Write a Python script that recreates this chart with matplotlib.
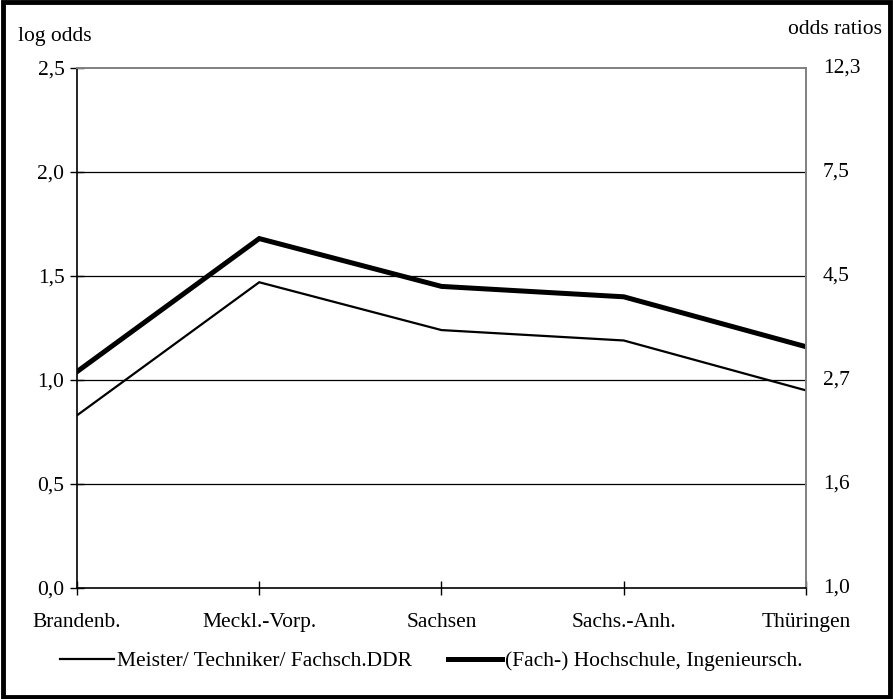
import matplotlib
matplotlib.use("Agg")
import matplotlib.pyplot as plt
from matplotlib.patches import Rectangle

categories = ["Brandenb.", "Meckl.-Vorp.", "Sachsen", "Sachs.-Anh.", "Thüringen"]
meister = [0.83, 1.47, 1.24, 1.19, 0.95]
hochschule = [1.04, 1.68, 1.45, 1.40, 1.16]
left_ticks = [0.0, 0.5, 1.0, 1.5, 2.0, 2.5]
left_labels = ["0,0", "0,5", "1,0", "1,5", "2,0", "2,5"]
right_labels = ["1,0", "1,6", "2,7", "4,5", "7,5", "12,3"]
series_names = ["Meister/ Techniker/ Fachsch.DDR", "(Fach-) Hochschule, Ingenieursch."]

plt.rcParams['font.family'] = ['Liberation Serif', 'DejaVu Serif']
FS = 15.5

fig = plt.figure(figsize=(8.93, 6.99), dpi=100)
ax = fig.add_axes([0.0862, 0.1588, 0.9026 - 0.0862, 0.9027 - 0.1588])

x = list(range(len(categories)))
l1, = ax.plot(x, meister, color='black', lw=1.6, solid_joinstyle='miter')
l2, = ax.plot(x, hochschule, color='black', lw=3.6, solid_joinstyle='miter')

ax.set_xlim(0, len(categories) - 1)
ax.set_ylim(0, 2.5)
ax.set_xticks(x)
ax.set_xticklabels(categories, fontsize=FS)
ax.set_yticks(left_ticks)
ax.set_yticklabels(left_labels, fontsize=FS)
ax.tick_params(axis='x', direction='inout', length=10, width=1, pad=13)
ax.tick_params(axis='y', direction='inout', length=10, width=1, pad=4)
for yv in left_ticks[1:-1]:
    ax.axhline(yv, color='black', lw=0.9, zorder=0)
ax.spines['left'].set_color('black')
ax.spines['bottom'].set_color('black')
ax.spines['left'].set_linewidth(1.2)
ax.spines['bottom'].set_linewidth(1.2)
ax.spines['top'].set_color('#808080')
ax.spines['right'].set_color('#808080')
ax.spines['top'].set_linewidth(1.4)
ax.spines['right'].set_linewidth(1.4)

ax2 = ax.twinx()
ax2.set_ylim(0, 2.5)
ax2.set_yticks(left_ticks)
ax2.set_yticklabels(right_labels, fontsize=FS, va='center')
ax2.tick_params(axis='y', length=0, pad=12)
for s in ax2.spines.values():
    s.set_visible(False)

fig.text(18 / 893, 1 - 36 / 699, "log odds", fontsize=FS, va='center', ha='left')
fig.text(882 / 893, 1 - 30 / 699, "odds ratios", fontsize=FS, va='center', ha='right')

fig.legend([l1, l2], series_names, loc='center', bbox_to_anchor=(0.483, 1 - 661 / 699),
           ncol=2, frameon=False, fontsize=FS, handlelength=2.5, handletextpad=0.12,
           columnspacing=1.7)

fig.patches.append(Rectangle((0.003, 0.003), 0.994, 0.994, transform=fig.transFigure,
                             fill=False, edgecolor='black', lw=3.5))

fig.savefig("out.png", dpi=100)
